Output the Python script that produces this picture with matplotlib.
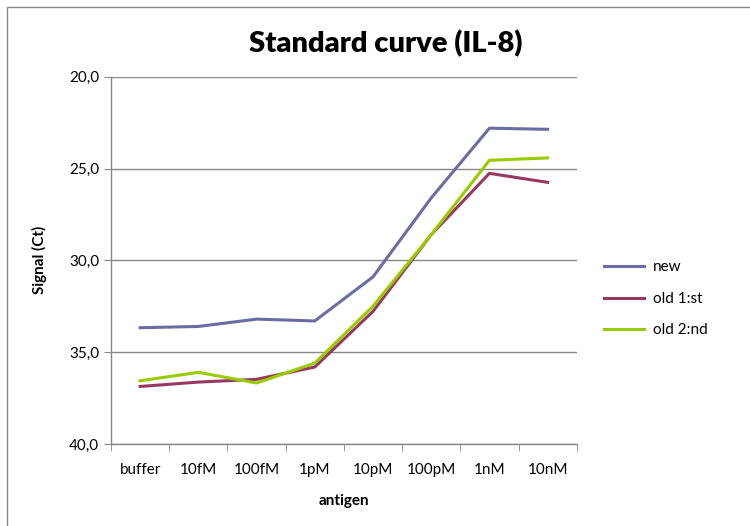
import matplotlib
matplotlib.use("Agg")
import matplotlib.pyplot as plt
import matplotlib.ticker as ticker
import numpy as np
from matplotlib.patches import Rectangle

categories = ["buffer", "10fM", "100fM", "1pM", "10pM", "100pM", "1nM", "10nM"]
new_vals = [33.67, 33.6, 33.2, 33.3, 30.9, 26.6, 22.8, 22.86]
old1_vals = [36.87, 36.63, 36.48, 35.81, 32.78, 28.6, 25.26, 25.75]
old2_vals = [36.56, 36.1, 36.68, 35.6, 32.5, 28.6, 24.55, 24.42]

plt.rcParams["font.family"] = ["Lato", "DejaVu Sans"]

fig = plt.figure(figsize=(7.5, 5.26), dpi=100)
ax = fig.add_axes([0.148, 0.156, 0.621, 0.698])

# chart frame
fig.patches.append(Rectangle((7 / 750, -0.01), 1.0, 1 - 7 / 526 + 0.01,
                             transform=fig.transFigure, fill=False,
                             edgecolor="#888888", lw=1.0))

x = np.arange(len(categories))
ax.plot(x, new_vals, color="#6A6DA4", lw=2.2, label="new")
ax.plot(x, old1_vals, color="#973863", lw=2.2, label="old 1:st")
ax.plot(x, old2_vals, color="#99CC00", lw=2.2, label="old 2:nd")

ax.set_ylim(40, 20)
ax.set_xlim(-0.5, len(categories) - 0.5)
ax.yaxis.set_major_locator(ticker.MultipleLocator(5))
ax.yaxis.set_major_formatter(ticker.FuncFormatter(lambda v, p: f"{v:.1f}".replace(".", ",")))
ax.set_xticks(x)
ax.set_xticklabels(categories)
ax.set_xticks(np.arange(-0.5, len(categories), 1.0), minor=True)
ax.tick_params(axis="x", which="major", length=0, pad=14, labelsize=11)
ax.tick_params(axis="x", which="minor", length=5, color="#888888", direction="out")
ax.tick_params(axis="y", length=5, color="#888888", direction="out", labelsize=11)

ax.grid(axis="y", color="#888888", lw=1.0)
ax.set_axisbelow(True)
for s in ["top", "right"]:
    ax.spines[s].set_visible(False)
for s in ["left", "bottom"]:
    ax.spines[s].set_color("#888888")
    ax.spines[s].set_linewidth(1.0)

ax.set_xlabel("antigen", fontsize=11, fontweight="bold", labelpad=12)
ax.set_ylabel("Signal (Ct)", fontsize=11, fontweight="bold", labelpad=16)
fig.text(0.5147, 0.917, "Standard curve (IL-8)", ha="center", va="center",
         fontsize=21, fontweight="heavy")

ax.legend(loc="center left", bbox_to_anchor=(1.03, 0.395), frameon=False,
          fontsize=11, handlelength=2.6, labelspacing=1.15, handletextpad=0.6)

fig.savefig("out.png", dpi=100)
